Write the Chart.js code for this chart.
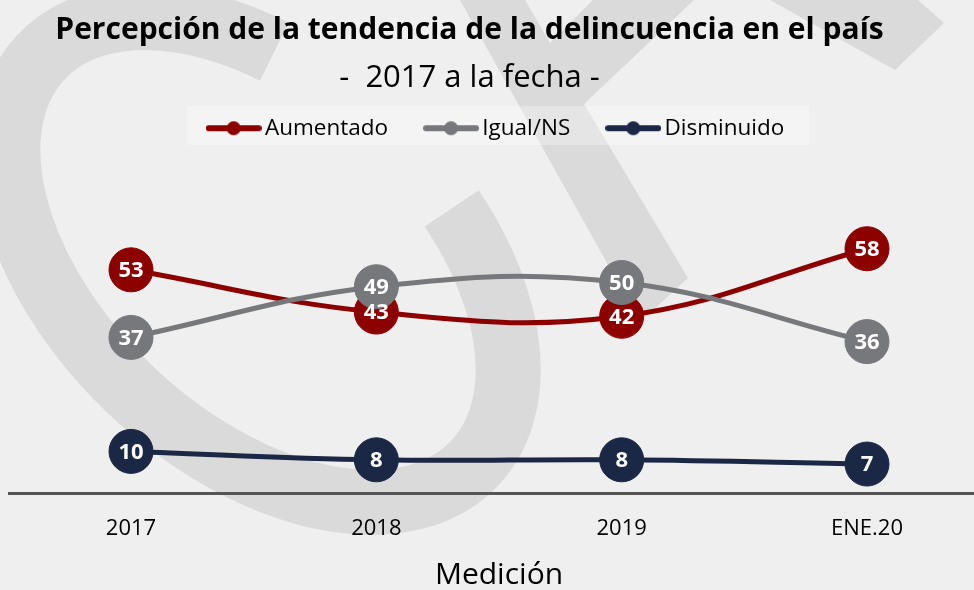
<!DOCTYPE html>
<html>
<head>
<meta charset="utf-8">
<script src="https://cdn.jsdelivr.net/npm/chart.js@4.4.1/dist/chart.umd.min.js"></script>
<style>
  html, body { margin: 0; padding: 0; background: #efefef; }
  #wrap { position: relative; width: 974px; height: 590px; overflow: hidden; }
  #c { position: absolute; left: 0; top: 0; }
  .ttl { position: absolute; left: 0; width: 939px; text-align: center; font-family: "Open Sans", sans-serif; color: #000; white-space: pre; }
  #title { top: 10px; font-size: 30px; font-weight: 700; line-height: 36px; }
  #sub { top: 56px; font-size: 31px; line-height: 38px; }
</style>
</head>
<body>
<div id="wrap">
  <canvas id="c" width="974" height="590"></canvas>
  <div id="title" class="ttl">Percepción de la tendencia de la delincuencia en el país</div>
  <div id="sub" class="ttl">-  2017 a la fecha -</div>
</div>
<script>
var categories = ['2017', '2018', '2019', 'ENE.20'];
var aumentado = [53, 43, 42, 58];
var igual = [37, 49, 50, 36];
var disminuido = [10, 8, 8, 7];

var RED = '#8c0000';
var GRAY = '#77787c';
var NAVY = '#1b2845';

// little line + dot icon for the legend
function legendIcon(color) {
  var cv = document.createElement('canvas');
  cv.width = 56;
  cv.height = 16;
  var g = cv.getContext('2d');
  g.strokeStyle = color;
  g.lineWidth = 6;
  g.lineCap = 'round';
  g.beginPath();
  g.moveTo(3, 8);
  g.lineTo(53, 8);
  g.stroke();
  g.fillStyle = color;
  g.beginPath();
  g.arc(28, 8, 7, 0, Math.PI * 2);
  g.fill();
  return cv;
}

// background + faint logo behind the chart
var watermark = {
  id: 'watermark',
  beforeDraw: function(chart) {
    var ctx = chart.ctx;
    var deg = Math.PI / 180;
    ctx.save();
    ctx.fillStyle = '#efefef';
    ctx.fillRect(0, 0, chart.width, chart.height);
    ctx.strokeStyle = '#dadada';
    ctx.fillStyle = '#dadada';
    ctx.lineWidth = 65;
    ctx.beginPath();
    ctx.ellipse(258, 260, 297, 182, 43 * deg, -69 * deg, 244 * deg);
    ctx.stroke();
    var polys = [
      [[460, 0], [525, 0], [550, 43], [593, 0], [694, 0], [584, 104], [688, 278], [640, 322]],
      [[770, 0], [918, 0], [944, 23], [895, 70]]
    ];
    polys.forEach(function(p) {
      ctx.beginPath();
      ctx.moveTo(p[0][0], p[0][1]);
      for (var i = 1; i < p.length; i++) ctx.lineTo(p[i][0], p[i][1]);
      ctx.closePath();
      ctx.fill();
    });
    ctx.fillStyle = 'rgba(255,255,255,0.3)';
    ctx.fillRect(187, 106, 622, 39);
    ctx.restore();
  }
};

// long dark base line under the plot
var baseLine = {
  id: 'baseLine',
  beforeDatasetsDraw: function(chart) {
    var ctx = chart.ctx;
    var y = chart.scales.y.getPixelForValue(0);
    ctx.save();
    ctx.strokeStyle = '#555555';
    ctx.lineWidth = 3;
    ctx.beginPath();
    ctx.moveTo(8, y);
    ctx.lineTo(974, y);
    ctx.stroke();
    ctx.restore();
  }
};

// white values inside the markers
var valueLabels = {
  id: 'valueLabels',
  afterDatasetsDraw: function(chart) {
    var ctx = chart.ctx;
    ctx.save();
    ctx.fillStyle = '#ffffff';
    ctx.font = 'bold 22px "Open Sans"';
    ctx.textAlign = 'center';
    ctx.textBaseline = 'middle';
    chart.data.datasets.forEach(function(ds, i) {
      chart.getDatasetMeta(i).data.forEach(function(pt, j) {
        ctx.fillText(String(ds.data[j]), pt.x, pt.y + 1);
      });
    });
    ctx.restore();
  }
};

var icons = {};
icons[RED] = legendIcon(RED);
icons[GRAY] = legendIcon(GRAY);
icons[NAVY] = legendIcon(NAVY);

function series(label, values, color) {
  return {
    label: label,
    data: values,
    borderColor: color,
    backgroundColor: color,
    borderWidth: 5,
    tension: 0.4,
    pointRadius: 22,
    pointHoverRadius: 22,
    pointBackgroundColor: color,
    pointBorderColor: color,
    pointBorderWidth: 1,
    clip: false
  };
}

var ctx = document.getElementById('c').getContext('2d');
var chart = new Chart(ctx, {
  type: 'line',
  data: {
    labels: categories,
    datasets: [
      series('Disminuido', disminuido, NAVY),
      series('Igual/NS', igual, GRAY),
      series('Aumentado', aumentado, RED)
    ]
  },
  options: {
    responsive: false,
    animation: false,
    events: [],
    layout: { padding: { left: 131, right: 107, top: 74, bottom: 0 } },
    plugins: {
      tooltip: { enabled: false },
      legend: {
        position: 'top',
        reverse: true,
        labels: {
          usePointStyle: true,
          pointStyleWidth: 40,
          padding: 43,
          color: '#000',
          font: { family: 'Open Sans', size: 22.5 },
          generateLabels: function(chart) {
            var items = Chart.defaults.plugins.legend.labels.generateLabels(chart);
            items.forEach(function(it) {
              it.pointStyle = icons[it.strokeStyle];
            });
            return items;
          }
        }
      }
    },
    scales: {
      x: {
        offset: false,
        grid: { display: false, drawTicks: false },
        border: { display: false },
        ticks: { color: '#000', padding: 22, font: { family: 'Open Sans', size: 22 } },
        title: {
          display: true,
          text: 'Medición',
          color: '#000',
          padding: { top: 2, bottom: 6 },
          font: { family: 'Open Sans', size: 30, lineHeight: 0.6 }
        }
      },
      y: {
        display: false,
        min: 0,
        max: 81.5
      }
    }
  },
  plugins: [watermark, baseLine, valueLabels]
});
</script>
</body>
</html>
